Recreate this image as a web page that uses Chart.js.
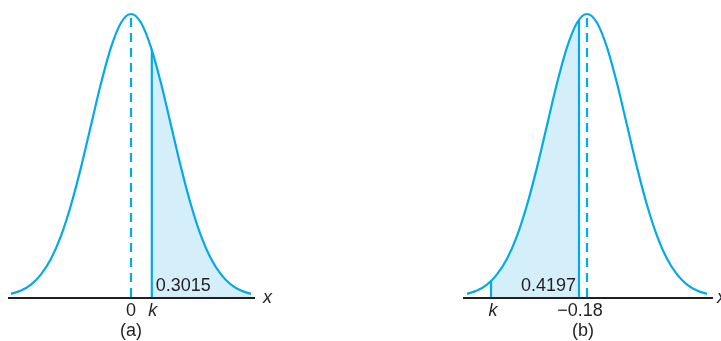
<!DOCTYPE html>
<html>
<head>
<meta charset="utf-8">
<script src="https://cdn.jsdelivr.net/npm/chart.js@4"></script>
<style>
  body { margin: 0; background: #fff; }
  .wrap { position: absolute; top: 0; height: 341px; }
  #wa { left: 0; width: 360px; }
  #wb { left: 360px; width: 361px; }
</style>
</head>
<body>
<div class="wrap" id="wa"><canvas id="chartA"></canvas></div>
<div class="wrap" id="wb"><canvas id="chartB"></canvas></div>
<script>
// curve heights (relative to the peak), x in standard units
const zValues = [-3, -2.75, -2.5, -2.25, -2, -1.75, -1.5, -1.25, -1, -0.75, -0.5, -0.25,
  0, 0.25, 0.5, 0.75, 1, 1.25, 1.5, 1.75, 2, 2.25, 2.5, 2.75, 3];
const heights = [0.011, 0.023, 0.044, 0.080, 0.135, 0.216, 0.325, 0.458, 0.607, 0.755, 0.882, 0.969,
  1, 0.969, 0.882, 0.755, 0.607, 0.458, 0.325, 0.216, 0.135, 0.080, 0.044, 0.023, 0.011];

// panel (a): area 0.3015 to the right of k
const kA = 0.52;
const kAHeight = 0.874;
const areaA = "0.3015";

// panel (b): area 0.4197 between k and -0.18
const kB = -2.4;
const kBHeight = 0.056;
const markB = -0.2;
const markBHeight = 0.980;
const areaB = "0.4197";

const blue = "#04a9e8";
const shade = "#d4eefa";
const ink = "#231f20";

const curve = zValues.map((z, i) => ({ x: z, y: heights[i] }));

function between(lo, loH, hi, hiH) {
  const pts = [{ x: lo, y: loH }];
  zValues.forEach((z, i) => { if (z > lo && z < hi) pts.push({ x: z, y: heights[i] }); });
  pts.push({ x: hi, y: hiH });
  return pts;
}

function makeLabels(items) {
  return {
    id: "labels",
    afterDraw(chart) {
      const ctx = chart.ctx;
      const a = chart.chartArea;
      const xs = chart.scales.x;
      ctx.save();
      ctx.strokeStyle = ink;
      ctx.lineWidth = 2;
      ctx.beginPath();
      ctx.moveTo(a.left, a.bottom + 1);
      ctx.lineTo(a.right, a.bottom + 1);
      ctx.stroke();
      ctx.fillStyle = ink;
      items.forEach(t => {
        ctx.font = (t.italic ? "italic " : "") + "18px 'Liberation Sans', Arial, sans-serif";
        ctx.textAlign = t.align || "center";
        ctx.textBaseline = "alphabetic";
        const px = t.at === "right" ? a.right + t.dx : xs.getPixelForValue(t.x) + (t.dx || 0);
        ctx.fillText(t.text, px, t.y);
      });
      ctx.restore();
    }
  };
}

function makeChart(id, xMin, xMax, pad, datasets, labels) {
  return new Chart(document.getElementById(id), {
    type: "scatter",
    data: { datasets },
    options: {
      responsive: true,
      maintainAspectRatio: false,
      animation: false,
      layout: { padding: pad },
      plugins: { legend: { display: false }, tooltip: { enabled: false } },
      scales: {
        x: { type: "linear", min: xMin, max: xMax, display: false },
        y: { min: 0, max: 1, display: false }
      }
    },
    plugins: [makeLabels(labels)]
  });
}

const lineStyle = { showLine: true, pointRadius: 0, borderColor: blue, borderWidth: 2.2, clip: false, order: 1 };
const fillStyle = { ...lineStyle, borderWidth: 0, backgroundColor: shade, fill: "origin",
  cubicInterpolationMode: "monotone", order: 10 };

makeChart("chartA", -3.075, 3.1, { left: 8, right: 105, top: 14, bottom: 44 }, [
  { ...fillStyle, data: between(kA, kAHeight, 3, 0.011) },
  { ...lineStyle, data: curve, cubicInterpolationMode: "monotone" },
  { ...lineStyle, data: [{ x: 0, y: 0 }, { x: 0, y: 1 }], borderDash: [9, 6] },
  { ...lineStyle, data: [{ x: kA, y: 0 }, { x: kA, y: kAHeight }] }
], [
  { text: "0", x: 0, y: 316 },
  { text: "k", x: kA, y: 316, italic: true, dx: 1 },
  { text: "x", at: "right", dx: 8, y: 303, italic: true, align: "left" },
  { text: areaA, x: kA, dx: 4, y: 291, align: "left" },
  { text: "(a)", x: 0, y: 336 }
]);

makeChart("chartB", -3.1, 3.15, { left: 103, right: 8, top: 14, bottom: 44 }, [
  { ...fillStyle, data: between(kB, kBHeight, markB, markBHeight) },
  { ...lineStyle, data: curve, cubicInterpolationMode: "monotone" },
  { ...lineStyle, data: [{ x: 0, y: 0 }, { x: 0, y: 1 }], borderDash: [9, 6] },
  { ...lineStyle, data: [{ x: kB, y: 0 }, { x: kB, y: kBHeight }] },
  { ...lineStyle, data: [{ x: markB, y: 0 }, { x: markB, y: markBHeight }] }
], [
  { text: "k", x: kB, y: 316, italic: true, dx: 2 },
  { text: "\u22120.18", x: markB, y: 316, dx: 1 },
  { text: "x", at: "right", dx: 4, y: 303, italic: true, align: "left" },
  { text: areaB, x: markB, dx: -3, y: 291, align: "right" },
  { text: "(b)", x: -0.1, y: 336 }
]);
</script>
</body>
</html>
